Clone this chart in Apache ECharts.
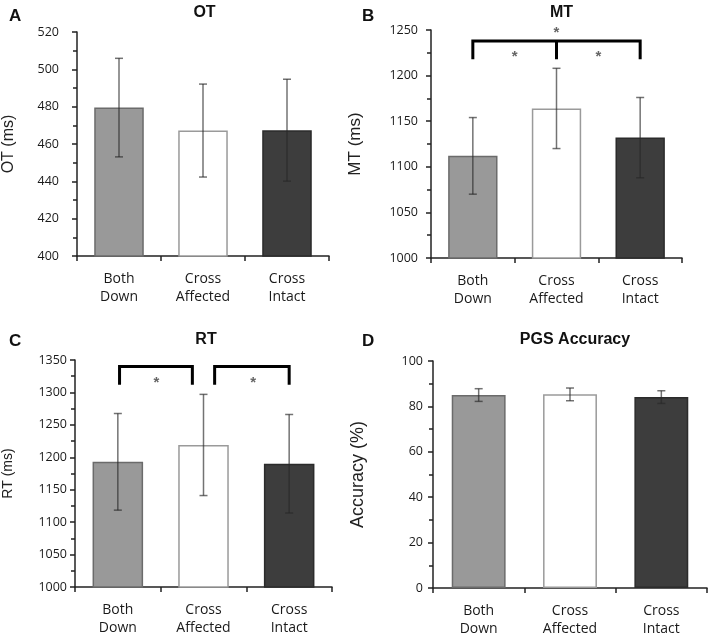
<!DOCTYPE html>
<html>
<head>
<meta charset="utf-8">
<script src="https://cdn.jsdelivr.net/npm/echarts@6/dist/echarts.min.js"></script>
<style>
html, body { margin: 0; padding: 0; background: #fff; }
#chart { width: 709px; height: 638px; }
</style>
</head>
<body>
<div id="chart"></div>
<script>
// categories shared by all four panels
const categories = ['Both\nDown', 'Cross\nAffected', 'Cross\nIntact']

// A: OT (ms)
const otMean = [479.5, 467.2, 467.4]
const otErr = [26.4, 24.9, 27.3]
// B: MT (ms)
const mtMean = [1112, 1164, 1132]
const mtErr = [42, 44, 44]
// C: RT (ms)
const rtMean = [1193, 1219, 1190]
const rtErr = [74.5, 78, 76]
// D: PGS accuracy (%)
const accMean = [85, 85.3, 84.1]
const accErr = [2.8, 2.8, 2.8]

// significance brackets: [fromCategory, toCategory, lineValue, dropValue]
const mtBrackets = [[0, 2, 1238, 1218], [1, 1, 1238, 1218]]
const mtStars = [[1, 1250], [0.5, 1224], [1.5, 1224]]
const rtBrackets = [[0.02, 0.87, 1340, 1312], [1.13, 2, 1340, 1312]]
const rtStars = [[0.45, 1320], [1.58, 1320]]

const barColors = ['#999999', '#ffffff', '#3d3d3d']
const barBorders = ['#6b6b6b', '#9a9a9a', '#2b2b2b']

const panels = [
  { letter: 'A', title: 'OT', name: 'OT (ms)', nameSize: 16, nameGap: 60, labelMargin: 18,
    grid: { left: 70, top: 32, width: 259, height: 224 },
    min: 400, max: 520, interval: 20, mean: otMean, err: otErr, brackets: [], stars: [] },
  { letter: 'B', title: 'MT', name: 'MT (ms)', nameSize: 17, nameGap: 67, labelMargin: 13,
    grid: { left: 431, top: 30, width: 251, height: 228 },
    min: 1000, max: 1250, interval: 50, mean: mtMean, err: mtErr, brackets: mtBrackets, stars: mtStars },
  { letter: 'C', title: 'RT', name: 'RT (ms)', nameSize: 14, nameGap: 60, labelMargin: 8,
    grid: { left: 70, top: 360, width: 262, height: 227 },
    min: 1000, max: 1350, interval: 50, mean: rtMean, err: rtErr, brackets: rtBrackets, stars: rtStars },
  { letter: 'D', title: 'PGS Accuracy', name: 'Accuracy (%)', nameSize: 18, nameGap: 66, labelMargin: 10,
    grid: { left: 433, top: 361, width: 274, height: 230 },
    min: 0, max: 100, interval: 20, mean: accMean, err: accErr, brackets: [], stars: [] }
]

// x position of a (possibly fractional) category index
function catX (api, c) {
  const base = Math.floor(c)
  const band = api.size([1, 0])[0]
  return api.coord([base, 0])[0] + (c - base) * band
}

const option = {
  backgroundColor: '#fff',
  animation: false,
  title: [],
  grid: [],
  xAxis: [],
  yAxis: [],
  series: []
}

panels.forEach((p, k) => {
  const g = p.grid
  option.grid.push(Object.assign({ containLabel: false }, g))
  option.title.push({
    text: p.title,
    left: g.left + g.width / 2,
    top: k < 2 ? 0 : 327,
    textAlign: 'center',
    textStyle: { fontFamily: 'Liberation Sans', fontSize: 16, fontWeight: 'bold', color: '#111' }
  })
  option.title.push({
    text: p.letter,
    left: k % 2 === 0 ? 4 : 357,
    top: k < 2 ? 3 : 328,
    textStyle: { fontFamily: 'Liberation Sans', fontSize: 17, fontWeight: 'bold', color: '#111' }
  })
  option.xAxis.push({
    type: 'category',
    gridIndex: k,
    data: categories,
    axisLine: { lineStyle: { color: '#222', width: 1.5 } },
    axisTick: { show: true, length: 5, lineStyle: { color: '#222', width: 1.5 } },
    axisLabel: { margin: 14, fontFamily: 'Open Sans', fontSize: 14, lineHeight: 18, color: '#1a1a1a' }
  })
  option.yAxis.push({
    type: 'value',
    gridIndex: k,
    min: p.min,
    max: p.max,
    interval: p.interval,
    name: p.name,
    nameLocation: 'middle',
    nameGap: p.nameGap,
    nameTextStyle: { fontFamily: 'Liberation Sans', fontSize: p.nameSize, color: '#222' },
    axisLine: { show: true, lineStyle: { color: '#222', width: 1.5 } },
    axisTick: { show: true, length: 5, lineStyle: { color: '#222', width: 1.5 } },
    minorTick: { show: true, splitNumber: 2, length: 4, lineStyle: { color: '#222', width: 1.5 } },
    splitLine: { show: false },
    minorSplitLine: { show: false },
    axisLabel: {
      margin: p.labelMargin,
      fontFamily: 'Open Sans',
      fontSize: 12.5,
      color: '#1a1a1a',
      formatter: v => String(v)
    }
  })
  option.series.push({
    type: 'bar',
    xAxisIndex: k,
    yAxisIndex: k,
    barWidth: '59%',
    data: p.mean.map((v, i) => ({
      value: v,
      itemStyle: { color: barColors[i], borderColor: barBorders[i], borderWidth: 1.5 }
    }))
  })
  // error bars
  option.series.push({
    type: 'custom',
    xAxisIndex: k,
    yAxisIndex: k,
    z: 5,
    data: p.mean.map((v, i) => [i, v - p.err[i], v + p.err[i]]),
    renderItem: function (params, api) {
      const x = api.coord([api.value(0), 0])[0]
      const lo = api.coord([api.value(0), api.value(1)])[1]
      const hi = api.coord([api.value(0), api.value(2)])[1]
      const s = { stroke: 'rgba(40,40,40,0.65)', lineWidth: 1.5 }
      return {
        type: 'group',
        children: [
          { type: 'line', shape: { x1: x, y1: lo, x2: x, y2: hi }, style: s },
          { type: 'line', shape: { x1: x - 4, y1: lo, x2: x + 4, y2: lo }, style: s },
          { type: 'line', shape: { x1: x - 4, y1: hi, x2: x + 4, y2: hi }, style: s }
        ]
      }
    }
  })
  if (p.brackets.length) {
    const list = p.brackets
    option.series.push({
      type: 'custom',
      xAxisIndex: k,
      yAxisIndex: k,
      z: 6,
      clip: false,
      data: list.map((b, i) => i),
      renderItem: function (params, api) {
        const b = list[params.dataIndex]
        const x1 = catX(api, b[0])
        const x2 = catX(api, b[1])
        const yTop = api.coord([0, b[2]])[1]
        const yDrop = api.coord([0, b[3]])[1]
        return {
          type: 'polyline',
          shape: { points: [[x1, yDrop], [x1, yTop], [x2, yTop], [x2, yDrop]] },
          style: { stroke: '#000', lineWidth: 3, fill: null, lineJoin: 'miter' }
        }
      }
    })
    const stars = p.stars
    option.series.push({
      type: 'custom',
      xAxisIndex: k,
      yAxisIndex: k,
      z: 6,
      clip: false,
      data: stars.map((s, i) => i),
      renderItem: function (params, api) {
        const s = stars[params.dataIndex]
        return {
          type: 'text',
          x: catX(api, s[0]),
          y: api.coord([0, s[1]])[1] + 3,
          style: {
            text: '*',
            fill: '#666',
            font: 'bold 15px "Liberation Sans"',
            align: 'center',
            verticalAlign: 'middle'
          }
        }
      }
    })
  }
})

const chart = echarts.init(document.getElementById('chart'))
chart.setOption(option)
</script>
</body>
</html>
